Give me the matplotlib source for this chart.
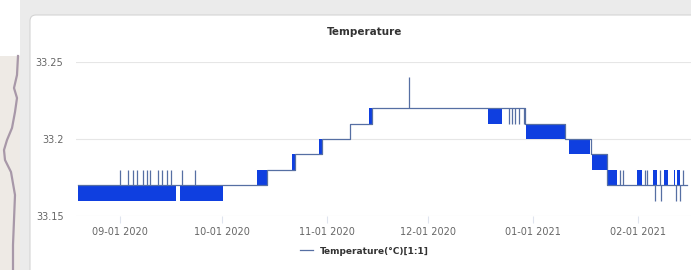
import matplotlib
matplotlib.use("Agg")
import matplotlib.pyplot as plt
import matplotlib.dates as mdates
from matplotlib.patches import Rectangle, FancyBboxPatch
import pandas as pd

# step line of the reading (value holds until the next date)
line_dates = ["2020-08-19 14:00", "2020-10-14 10:00", "2020-10-22 17:00", "2020-10-30 16:00",
              "2020-11-07 23:00", "2020-11-14 11:00", "2020-12-29 15:30", "2021-01-10 12:00",
              "2021-01-18 02:30", "2021-01-22 21:00", "2021-02-15 12:00"]
line_values = [33.17, 33.18, 33.19, 33.20, 33.21, 33.22, 33.21, 33.20, 33.19, 33.17, 33.17]

# stretches where the reading flickers between two levels
band_start = ["2020-08-19 14:00", "2020-09-18 17:30", "2020-10-11 11:00", "2020-10-21 19:30",
              "2020-10-29 19:00", "2020-11-13 13:30", "2020-12-18 17:00", "2020-12-29 22:30",
              "2021-01-11 15:30", "2021-01-18 10:30", "2021-01-23 06:00", "2021-01-31 14:00",
              "2021-02-05 12:00", "2021-02-08 17:00", "2021-02-11 12:00", "2021-02-12 15:00"]
band_end = ["2020-09-17 13:00", "2020-10-01 10:00", "2020-10-14 10:00", "2020-10-22 17:00",
            "2020-10-30 16:00", "2020-11-14 11:00", "2020-12-22 20:30", "2021-01-10 11:00",
            "2021-01-17 20:30", "2021-01-22 21:00", "2021-01-25 17:30", "2021-02-02 02:00",
            "2021-02-06 12:00", "2021-02-10 00:00", "2021-02-12 00:00", "2021-02-13 10:00"]
band_low = [33.16, 33.16, 33.17, 33.18, 33.19, 33.21, 33.21, 33.20,
            33.19, 33.18, 33.17, 33.17, 33.17, 33.17, 33.17, 33.17]
band_high = [33.17, 33.17, 33.18, 33.19, 33.20, 33.22, 33.22, 33.21,
             33.20, 33.19, 33.18, 33.18, 33.18, 33.18, 33.18, 33.18]

# single short jumps
spike_dates = ["2020-09-01 00:00", "2020-09-03 09:00", "2020-09-04 20:00", "2020-09-06 00:30",
               "2020-09-07 19:00", "2020-09-08 23:30", "2020-09-09 20:30", "2020-09-12 05:30",
               "2020-09-13 10:00", "2020-09-14 21:00", "2020-09-16 01:30", "2020-09-19 08:00",
               "2020-09-23 04:00", "2020-11-25 09:00", "2020-12-24 22:00", "2020-12-25 19:00",
               "2020-12-26 16:30", "2020-12-27 21:00", "2020-12-29 08:30", "2021-01-26 17:00",
               "2021-01-27 17:00", "2021-02-03 02:00", "2021-02-03 19:00", "2021-02-07 12:00",
               "2021-02-14 05:00", "2021-02-05 22:00", "2021-02-07 17:00", "2021-02-12 07:00",
               "2021-02-13 10:00"]
spike_from = [33.17] * 13 + [33.22] + [33.22] * 5 + [33.17] * 6 + [33.17] * 4
spike_to = [33.18] * 13 + [33.24] + [33.21] * 5 + [33.18] * 6 + [33.16] * 4

y_ticks = [33.15, 33.2, 33.25]
y_labels = ["33.15", "33.2", "33.25"]

LINE = "#566fa3"
FILL = "#0f3fe0"

fig = plt.figure(figsize=(6.91, 2.70), dpi=100)

# screenshot surroundings, drawn in pixel units
bg = fig.add_axes([0, 0, 1, 1], zorder=-1)
bg.set_xlim(0, 691)
bg.set_ylim(270, 0)
bg.axis("off")
bg.add_patch(Rectangle((20, 0), 671, 20, color="#ebebeb", lw=0))
bg.add_patch(Rectangle((20, 0), 12, 270, color="#ebebeb", lw=0))
bg.add_patch(Rectangle((0, 56), 20, 214, color="#eeeae5", lw=0))
bg.plot([18, 17, 14, 17, 15, 12, 7, 4, 5, 11, 15, 14, 13, 13],
        [56, 75, 88, 98, 112, 128, 140, 150, 160, 172, 195, 220, 245, 270],
        color="#a898a8", lw=1.6)
bg.add_patch(FancyBboxPatch((30, 15), 700, 300, boxstyle="round,pad=0,rounding_size=6",
                            fc="white", ec="#d4d4d4", lw=0.8))

ax = fig.add_axes([76 / 691, 1 - 216 / 270, 1 - 76 / 691, (216 - 62) / 270])
ax.set_facecolor("none")

for s, e, lo, hi in zip(band_start, band_end, band_low, band_high):
    ax.fill_between([pd.Timestamp(s), pd.Timestamp(e)], [lo, lo], [hi, hi],
                    color=FILL, lw=0, zorder=2)

ln, = ax.plot(pd.to_datetime(line_dates), line_values, drawstyle="steps-post",
              color=LINE, lw=0.9, zorder=3)
ax.vlines(pd.to_datetime(spike_dates), spike_from, spike_to, color=LINE, lw=0.9, zorder=3)

ax.set_ylim(33.15, 33.25)
ax.set_yticks(y_ticks)
ax.set_yticklabels(y_labels)
ax.set_xlim(pd.Timestamp("2020-08-19 00:00"), pd.Timestamp("2021-02-16 16:00"))
ax.xaxis.set_major_locator(mdates.MonthLocator())
ax.xaxis.set_major_formatter(mdates.DateFormatter("%m-%d %Y"))

ax.grid(axis="y", color="#e6e6e6", lw=0.8)
ax.set_axisbelow(True)
for sp in ax.spines.values():
    sp.set_visible(False)
ax.tick_params(axis="y", length=0, pad=9, labelsize=7, labelcolor="#666666")
ax.tick_params(axis="x", length=5, color="#dfe4ee", pad=3, labelsize=7, labelcolor="#666666")

fig.text(365 / 691, 1 - 32 / 270, "Temperature", ha="center", va="center",
         fontsize=7.5, fontweight="bold", color="#333333")

fig.legend([ln], ["Temperature(°C)[1:1]"], loc="center left",
           bbox_to_anchor=(300 / 691, 1 - 251 / 270), frameon=False,
           borderpad=0, borderaxespad=0, handlelength=1.45, handletextpad=0.8,
           prop={"size": 6.5, "weight": "bold"}, labelcolor="#333333")

fig.savefig("out.png", dpi=100)
